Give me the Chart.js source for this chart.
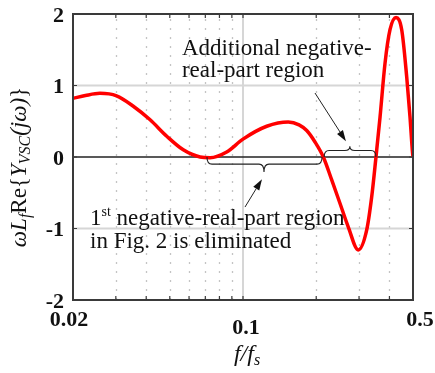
<!DOCTYPE html>
<html>
<head>
<meta charset="utf-8">
<script src="https://cdn.jsdelivr.net/npm/chart.js@4/dist/chart.umd.min.js"></script>
<style>
  body { margin: 0; background: #fff; }
  canvas { display: block; }
</style>
</head>
<body>
<canvas id="chart" width="435" height="373"></canvas>
<script>
// values (f/fs vs scaled admittance)
const xValues = [0.02, 0.0225, 0.0258, 0.0302, 0.0354, 0.0415, 0.0486, 0.0568, 0.0666, 0.0732,
  0.0857, 0.1, 0.1252, 0.1535, 0.17, 0.1828, 0.1977, 0.2139, 0.2316, 0.2506, 0.271, 0.2978,
  0.3226, 0.3381, 0.3522, 0.366, 0.3836, 0.4022, 0.4258, 0.4493, 0.4711, 0.486, 0.4969, 0.5];
const yValues = [0.82, 0.86, 0.89, 0.855, 0.71, 0.52, 0.29, 0.10, 0.0, -0.01,
  0.07, 0.25, 0.43, 0.49, 0.45, 0.37, 0.21, 0.0, -0.32, -0.65, -0.98, -1.30,
  -1.02, -0.56, 0.0, 0.56, 1.31, 1.78, 1.95, 1.78, 1.12, 0.56, 0.09, 0.0];

const yTicks = [-2, -1, 0, 1, 2];
const yMajorGrid = [-1, 1];
const xTickLabels = [0.02, 0.1, 0.5];
const xMajorGrid = [0.1];
const xMinorGrid = [0.03, 0.04, 0.05, 0.06, 0.07, 0.08, 0.09, 0.2, 0.3, 0.4];

const serif = '"Liberation Serif", "Times New Roman", serif';

// annotation anchors in data units
const notes = {
  addText: { x: 0.0561, y: [1.43, 1.12], lines: ['Additional negative-', 'real-part region'] },
  firstText: { x: 0.0235, y: [-0.95, -1.27] },
  brace1: { x1: 0.0711, x2: 0.2113, xm: 0.122, body: -0.10, tip: -0.21 },
  brace2: { x1: 0.2156, x2: 0.352, xm: 0.275, body: 0.09, tip: 0.15 },
  arrow1: { from: [0.1977, 0.895], to: [0.265, 0.22] },
  arrow2: { from: [0.1019, -0.70], to: [0.1197, -0.31] }
};

function drawRuns(ctx, runs, x, y) {
  let w = 0;
  runs.forEach(r => {
    ctx.font = (r.style || '') + ' ' + r.size + 'px ' + serif;
    r.w = ctx.measureText(r.t).width;
    w += r.w;
  });
  let cx = x - w / 2;
  runs.forEach(r => {
    ctx.font = (r.style || '') + ' ' + r.size + 'px ' + serif;
    ctx.fillText(r.t, cx, y + (r.dy || 0));
    cx += r.w;
  });
}

function drawBrace(ctx, x1, x2, xm, y0, yb, yt) {
  const r = 5;
  ctx.beginPath();
  ctx.moveTo(x1, y0);
  ctx.quadraticCurveTo(x1, yb, x1 + r, yb);
  ctx.lineTo(xm - r, yb);
  ctx.quadraticCurveTo(xm, yb, xm, yt);
  ctx.quadraticCurveTo(xm, yb, xm + r, yb);
  ctx.lineTo(x2 - r, yb);
  ctx.quadraticCurveTo(x2, yb, x2, y0);
  ctx.stroke();
}

function drawArrow(ctx, x1, y1, x2, y2) {
  const a = Math.atan2(y2 - y1, x2 - x1);
  const len = 11, half = 3.5;
  ctx.beginPath();
  ctx.moveTo(x1, y1);
  ctx.lineTo(x2 - len * Math.cos(a), y2 - len * Math.sin(a));
  ctx.stroke();
  ctx.beginPath();
  ctx.moveTo(x2, y2);
  ctx.lineTo(x2 - len * Math.cos(a) + half * Math.sin(a), y2 - len * Math.sin(a) - half * Math.cos(a));
  ctx.lineTo(x2 - len * Math.cos(a) - half * Math.sin(a), y2 - len * Math.sin(a) + half * Math.cos(a));
  ctx.closePath();
  ctx.fill();
}

const extras = {
  id: 'extras',
  beforeDatasetsDraw(chart) {
    const ctx = chart.ctx;
    const a = chart.chartArea;
    const xs = chart.scales.x, ys = chart.scales.y;
    ctx.save();
    // dotted minor grid
    ctx.strokeStyle = '#c4c4c4';
    ctx.lineWidth = 1.3;
    ctx.setLineDash([2, 7]);
    xMinorGrid.forEach(v => {
      const px = Math.round(xs.getPixelForValue(v)) + 0.5;
      ctx.beginPath(); ctx.moveTo(px, a.bottom); ctx.lineTo(px, a.top); ctx.stroke();
    });
    ctx.setLineDash([]);
    ctx.strokeStyle = '#d6d6d6';
    ctx.lineWidth = 2;
    xMajorGrid.forEach(v => {
      const px = xs.getPixelForValue(v);
      ctx.beginPath(); ctx.moveTo(px, a.top); ctx.lineTo(px, a.bottom); ctx.stroke();
    });
    yMajorGrid.forEach(v => {
      const py = ys.getPixelForValue(v);
      ctx.beginPath(); ctx.moveTo(a.left, py); ctx.lineTo(a.right, py); ctx.stroke();
    });
    // zero line
    ctx.strokeStyle = '#222';
    ctx.lineWidth = 1.3;
    const p0 = ys.getPixelForValue(0);
    ctx.beginPath(); ctx.moveTo(a.left, p0); ctx.lineTo(a.right, p0); ctx.stroke();
    ctx.restore();
  },
  afterDatasetsDraw(chart) {
    const ctx = chart.ctx;
    const a = chart.chartArea;
    const xs = chart.scales.x, ys = chart.scales.y;
    const X = v => xs.getPixelForValue(v), Y = v => ys.getPixelForValue(v);
    ctx.save();
    // frame and ticks
    ctx.strokeStyle = '#3a3a3a';
    ctx.lineWidth = 2;
    ctx.strokeRect(a.left, a.top, a.right - a.left, a.bottom - a.top);
    ctx.lineWidth = 1.2;
    xMinorGrid.concat(xMajorGrid).forEach(v => {
      const px = X(v);
      ctx.beginPath();
      ctx.moveTo(px, a.bottom); ctx.lineTo(px, a.bottom - 4);
      ctx.moveTo(px, a.top); ctx.lineTo(px, a.top + 4);
      ctx.stroke();
    });
    yTicks.forEach(v => {
      const py = Y(v);
      ctx.beginPath();
      ctx.moveTo(a.left, py); ctx.lineTo(a.left + 4, py);
      ctx.moveTo(a.right, py); ctx.lineTo(a.right - 4, py);
      ctx.stroke();
    });

    // tick labels
    ctx.fillStyle = '#111';
    ctx.font = 'bold 22px ' + serif;
    ctx.textAlign = 'right';
    ctx.textBaseline = 'middle';
    yTicks.forEach(v => ctx.fillText(String(v), a.left - 9, Y(v) + 2));
    ctx.textAlign = 'center';
    const xLabelShift = [[-4, 20], [3, 28], [7, 20]];
    xTickLabels.forEach((v, i) => {
      ctx.fillText(String(v), X(v) + xLabelShift[i][0], a.bottom + xLabelShift[i][1]);
    });

    // axis titles
    ctx.textAlign = 'left';
    ctx.textBaseline = 'alphabetic';
    drawRuns(ctx, [
      { t: 'f/f', style: 'italic', size: 24 },
      { t: 's', style: 'italic', size: 16, dy: 4 }
    ], 247, 361);
    ctx.save();
    ctx.translate(26, 167);
    ctx.rotate(-Math.PI / 2);
    drawRuns(ctx, [
      { t: 'ωL', style: 'italic', size: 23 },
      { t: 'f', style: 'italic', size: 16, dy: 4 },
      { t: 'Re{', size: 23 },
      { t: 'Y', style: 'italic', size: 23 },
      { t: 'VSC', style: 'italic', size: 16, dy: 4 },
      { t: '(jω)', style: 'italic', size: 23 },
      { t: '}', size: 23 }
    ], 0, 0);
    ctx.restore();

    // braces and arrows
    ctx.strokeStyle = '#222';
    ctx.fillStyle = '#111';
    ctx.lineWidth = 1.1;
    const b1 = notes.brace1, b2 = notes.brace2;
    drawBrace(ctx, X(b1.x1), X(b1.x2), X(b1.xm), Y(0), Y(b1.body), Y(b1.tip));
    drawBrace(ctx, X(b2.x1), X(b2.x2), X(b2.xm), Y(0), Y(b2.body), Y(b2.tip));
    ctx.lineWidth = 1;
    [notes.arrow1, notes.arrow2].forEach(n => {
      drawArrow(ctx, X(n.from[0]), Y(n.from[1]), X(n.to[0]), Y(n.to[1]));
    });

    // annotation text
    ctx.fillStyle = '#111';
    ctx.font = '23px ' + serif;
    ctx.textAlign = 'left';
    const t1 = notes.addText;
    t1.lines.forEach((s, i) => ctx.fillText(s, X(t1.x), Y(t1.y[i])));
    const t2 = notes.firstText;
    let px = X(t2.x);
    ctx.fillText('1', px, Y(t2.y[0]));
    px += ctx.measureText('1').width;
    ctx.font = '14px ' + serif;
    ctx.fillText('st', px, Y(t2.y[0]) - 9);
    px += ctx.measureText('st').width;
    ctx.font = '23px ' + serif;
    ctx.fillText(' negative-real-part region', px, Y(t2.y[0]));
    ctx.fillText('in Fig. 2 is eliminated', X(t2.x), Y(t2.y[1]));
    ctx.restore();
  }
};

new Chart(document.getElementById('chart').getContext('2d'), {
  type: 'line',
  data: {
    datasets: [{
      data: xValues.map((x, i) => ({ x: x, y: yValues[i] })),
      borderColor: '#ff0000',
      borderWidth: 3.5,
      pointRadius: 0,
      cubicInterpolationMode: 'monotone',
      fill: false
    }]
  },
  options: {
    responsive: false,
    animation: false,
    devicePixelRatio: 1,
    layout: { padding: { top: 14, right: 22, left: 0, bottom: 0 } },
    plugins: { legend: { display: false }, tooltip: { enabled: false } },
    scales: {
      x: {
        type: 'logarithmic',
        min: 0.02,
        max: 0.5,
        grid: { display: false },
        border: { display: false },
        ticks: { display: false },
        afterFit: s => { s.height = 73; }
      },
      y: {
        min: -2,
        max: 2,
        grid: { display: false },
        border: { display: false },
        ticks: { display: false, stepSize: 1 },
        afterFit: s => { s.width = 73; }
      }
    }
  },
  plugins: [extras]
});
</script>
</body>
</html>
